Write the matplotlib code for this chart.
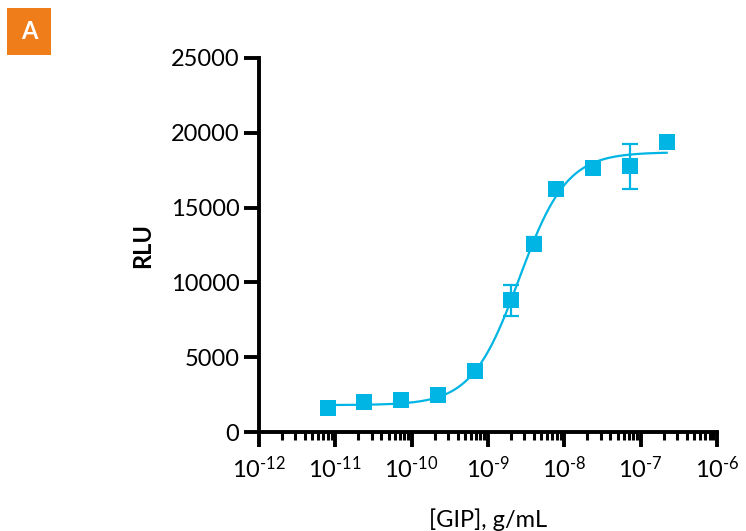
import numpy as np
import matplotlib.pyplot as plt
from matplotlib.ticker import LogLocator, FixedLocator, NullFormatter
from matplotlib.patches import Rectangle

plt.rcParams['font.family'] = ['Lato', 'DejaVu Sans']
plt.rcParams['mathtext.fontset'] = 'custom'
plt.rcParams['mathtext.rm'] = 'Lato'

# GIP concentration (g/mL) and luminescence readings
conc = [8.0e-12, 2.4e-11, 7.2e-11, 2.2e-10, 6.7e-10, 2.0e-9, 4.0e-9, 7.9e-9, 2.4e-8, 7.2e-8, 2.2e-7]
rlu = [1580, 2020, 2140, 2470, 4090, 8810, 12600, 16240, 17650, 17760, 19380]
rlu_err = [0, 0, 0, 0, 0, 1050, 450, 0, 0, 1500, 0]

# four-parameter logistic fit
fit_bottom = 1800
fit_top = 18700
fit_log_ec50 = -8.59
fit_hill = 1.4

y_ticks = [0, 5000, 10000, 15000, 20000, 25000]
x_decades = [-12, -11, -10, -9, -8, -7, -6]

color = '#00b5e4'

fig = plt.figure(figsize=(7.46, 5.31), dpi=100)
ax = fig.add_axes([0.347, 0.1864, 0.614, 0.7044])

lx = np.linspace(np.log10(conc[0]), np.log10(conc[-1]), 300)
fit_y = fit_bottom + (fit_top - fit_bottom) / (1 + 10 ** ((fit_log_ec50 - lx) * fit_hill))
ax.plot(10 ** lx, fit_y, color=color, lw=1.6, zorder=2)

ax.errorbar(conc, rlu, yerr=rlu_err, fmt='none', ecolor=color, elinewidth=1.6,
            capsize=5.5, capthick=1.6, zorder=3)
ax.plot(conc, rlu, 's', color=color, markersize=11, markeredgewidth=0, zorder=4)

ax.set_xscale('log')
ax.set_xlim(1e-12, 1e-6)
ax.set_ylim(0, 25000)
ax.set_yticks(y_ticks)
ax.set_yticklabels([str(v) for v in y_ticks])
ax.xaxis.set_major_locator(FixedLocator([10.0 ** d for d in x_decades]))
ax.set_xticklabels([r'$\mathregular{10^{\text{%d}}}$' % d for d in x_decades])
ax.xaxis.set_minor_locator(LogLocator(base=10, subs=np.arange(2, 10), numticks=50))
ax.xaxis.set_minor_formatter(NullFormatter())

for s in ['top', 'right']:
    ax.spines[s].set_visible(False)
for s in ['left', 'bottom']:
    ax.spines[s].set_linewidth(2.8)

ax.tick_params(axis='both', which='major', length=11, width=2.8, labelsize=17, color='black')
ax.tick_params(axis='x', which='major', pad=6)
ax.tick_params(axis='y', which='major', pad=3)
ax.tick_params(axis='x', which='minor', length=6, width=2.2)

ax.set_xlabel('[GIP], g/mL', fontsize=17, labelpad=19)
ax.set_ylabel('RLU', fontsize=17, fontweight='bold', labelpad=12)

fig.patches.append(Rectangle((7 / 746, 1 - 55 / 531), 44 / 746, 47 / 531,
                             transform=fig.transFigure, facecolor='#ef7d1a',
                             edgecolor='none'))
fig.text(29 / 746, 1 - 31.5 / 531, 'A', color='white', fontsize=17,
         fontweight='bold', ha='center', va='center')

fig.savefig('out.png', dpi=100)
